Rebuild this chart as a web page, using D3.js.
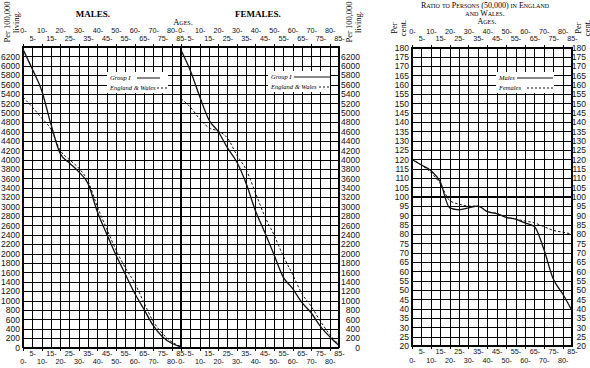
<!DOCTYPE html>
<html>
<head>
<meta charset="utf-8">
<script src="https://cdn.jsdelivr.net/npm/d3@7"></script>
<style>
body { margin: 0; background: #fff; }
svg { display: block; font-family: "Liberation Serif", "DejaVu Serif", serif; }
.grid line { stroke: #000; stroke-width: 1; shape-rendering: crispEdges; }
.lab text { fill: #111; }
</style>
</head>
<body>
<script>
// age groups (start of each 5-year group)
const ages = [0, 5, 10, 15, 20, 25, 30, 35, 40, 45, 50, 55, 60, 65, 70, 75, 80, 85];
const tenLabels = [0, 10, 20, 30, 40, 50, 60, 70, 80];
const fiveLabels = [5, 15, 25, 35, 45, 55, 65, 75, 85];
const popTicks = d3.range(0, 6201, 200);
const ratioTicks = d3.range(20, 181, 5);

// per 100,000 living
const malesGroup1 = [6350, 5930, 5480, 4760, 4130, 3930, 3740, 3490, 2890, 2420, 1970, 1565, 1160, 820, 470, 230, 90, 10];
const malesEW     = [5330, 5120, 4890, 4650, 4200, 4000, 3820, 3540, 3000, 2530, 2080, 1700, 1380, 960, 560, 300, 120, 20];
const femalesGroup1 = [6330, 5900, 5350, 4850, 4600, 4250, 3950, 3500, 2920, 2460, 1980, 1500, 1260, 960, 740, 450, 230, 40];
const femalesEW     = [5300, 5120, 4870, 4680, 4610, 4460, 4100, 3790, 3300, 2800, 2400, 1950, 1560, 1150, 880, 560, 280, 60];

// ratio to persons in England and Wales, per cent
const ratioMales   = [120, 117, 114, 108, 94, 93, 94, 95, 92, 91, 89, 88, 86, 84, 72, 56, 48, 39];
const ratioFemales = [120, 117, 113, 107, 98, 96, 95, 95, 92, 91, 89, 88, 87, 86, 84, 82, 81, 80];

const svg = d3.select("body").append("svg")
  .attr("width", 590)
  .attr("height", 368);

const yPop = d3.scaleLinear().domain([0, 6400]).range([347.5, 47]);
const xMale = d3.scaleLinear().domain([0, 85]).range([23, 181]);
const xFemale = d3.scaleLinear().domain([0, 85]).range([181, 339]);
const xRatio = d3.scaleLinear().domain([0, 85]).range([412, 572]);
const yRatio = d3.scaleLinear().domain([20, 180]).range([346, 47.5]);

function grid(x, y, yGrid) {
  const [yb, yt] = y.range();
  const [xl, xr] = x.range();
  const v = svg.append("g").attr("class", "grid")
    .attr("transform", `translate(0,${yb})`)
    .call(d3.axisBottom(x).tickValues(ages).tickSize(-(yb - yt)).tickFormat(""));
  const h = svg.append("g").attr("class", "grid")
    .attr("transform", `translate(${xl},0)`)
    .call(d3.axisLeft(y).tickValues(yGrid).tickSize(-(xr - xl)).tickFormat(""));
  // little ticks sticking out at the tens
  const t = svg.append("g").attr("class", "grid")
    .attr("transform", `translate(0,${yt})`)
    .call(d3.axisTop(x).tickValues(tenLabels).tickSize(3).tickFormat(""));
  const b = svg.append("g").attr("class", "grid")
    .attr("transform", `translate(0,${yb})`)
    .call(d3.axisBottom(x).tickValues(tenLabels).tickSize(3).tickFormat(""));
  [v, h, t, b].forEach(g => g.select(".domain").remove());
  svg.append("rect")
    .attr("x", xl).attr("y", yt)
    .attr("width", xr - xl).attr("height", yb - yt)
    .attr("fill", "none").attr("stroke", "#000").attr("stroke-width", 1.3)
    .attr("shape-rendering", "crispEdges");
}

function ageLabels(x, yt, yb) {
  const fmt = d => d + "-";
  const rows = [
    [d3.axisTop, tenLabels, yt, 14],
    [d3.axisTop, fiveLabels, yt, 6.5],
    [d3.axisBottom, fiveLabels, yb, 3],
    [d3.axisBottom, tenLabels, yb, 11.5]
  ];
  rows.forEach(([ax, vals, pos, pad]) => {
    const g = svg.append("g").attr("class", "lab")
      .attr("transform", `translate(0,${pos})`)
      .call(ax(x).tickValues(vals).tickSize(0).tickPadding(pad).tickFormat(fmt));
    g.select(".domain").remove();
    g.selectAll("text").attr("font-size", 7.2).attr("font-family", null);
  });
}

function valueLabels(axis, xpos, anchorEnd) {
  const g = svg.append("g").attr("class", "lab")
    .attr("transform", `translate(${xpos},0)`)
    .call(axis.tickFormat(d => String(d)));
  g.select(".domain").remove();
  g.selectAll("text").attr("font-size", 8.5).attr("font-family", null);
  if (anchorEnd) g.selectAll("text").attr("text-anchor", "end").attr("x", anchorEnd);
}

function curve(x, y, vals, dashed) {
  const line = d3.line().x((d, i) => x(ages[i])).y(d => y(d)).curve(d3.curveMonotoneX);
  svg.append("path")
    .attr("d", line(vals))
    .attr("fill", "none")
    .attr("stroke", "#111")
    .attr("stroke-width", dashed ? 1 : 1.3)
    .attr("stroke-dasharray", dashed ? "2.5,2" : null);
}

function legend(x, y, w, labels) {
  svg.append("rect").attr("x", x - 3).attr("y", y - 8).attr("width", w).attr("height", 21).attr("fill", "#fff");
  labels.forEach(([txt, lx0, lx1, dashed], i) => {
    svg.append("text").attr("x", x).attr("y", y + i * 10)
      .attr("font-size", 6.5).attr("font-style", "italic")
      .text(txt);
    svg.append("line")
      .attr("x1", lx0).attr("x2", lx1)
      .attr("y1", y - 2 + i * 10).attr("y2", y - 2 + i * 10)
      .attr("stroke", "#111").attr("stroke-width", 1)
      .attr("stroke-dasharray", dashed ? "2,2" : null);
  });
}

// ---- males / females ----
grid(xMale, yPop, popTicks);
grid(xFemale, yPop, popTicks);
ageLabels(xMale, 47, 347.5);
ageLabels(xFemale, 47, 347.5);
valueLabels(d3.axisLeft(yPop).tickValues(popTicks).tickSize(0).tickPadding(3), 23);
valueLabels(d3.axisRight(yPop).tickValues(popTicks).tickSize(0), 339, 21);

curve(xMale, yPop, malesEW, true);
curve(xMale, yPop, malesGroup1, false);
curve(xFemale, yPop, femalesEW, true);
curve(xFemale, yPop, femalesGroup1, false);

legend(110, 80, 61, [["Group I", 137, 160, false], ["England & Wales", 157, 167, true]]);
legend(271, 79, 62, [["Group I", 294, 330, false], ["England & Wales", 319, 329, true]]);

svg.append("text").attr("x", 93).attr("y", 17).attr("text-anchor", "middle")
  .attr("font-size", 9).attr("font-weight", "bold").text("MALES.");
svg.append("text").attr("x", 258).attr("y", 17).attr("text-anchor", "middle")
  .attr("font-size", 9).attr("font-weight", "bold").text("FEMALES.");
svg.append("text").attr("x", 183).attr("y", 25).attr("text-anchor", "middle")
  .attr("font-size", 8.5).style("font-variant", "small-caps").text("Ages.");

function sideTitle(x, y, lines, size) {
  const t = svg.append("text")
    .attr("transform", `translate(${x},${y}) rotate(-90)`)
    .attr("text-anchor", "middle").attr("font-size", size);
  lines.forEach((s, i) => t.append("tspan").attr("x", 0).attr("dy", i ? "1em" : 0).text(s));
}
sideTitle(10, 22, ["Per 100,000", "living."], 8.5);
sideTitle(352, 22, ["Per 100,000", "living."], 8.5);

// ---- ratio ----
grid(xRatio, yRatio, ratioTicks);
svg.append("line").attr("x1", 412).attr("x2", 572)
  .attr("y1", yRatio(100)).attr("y2", yRatio(100))
  .attr("stroke", "#000").attr("stroke-width", 1.6);
ageLabels(xRatio, 47.5, 346);
valueLabels(d3.axisLeft(yRatio).tickValues(ratioTicks).tickSize(0).tickPadding(3), 412);
valueLabels(d3.axisRight(yRatio).tickValues(ratioTicks).tickSize(0), 572, 14);

curve(xRatio, yRatio, ratioFemales, true);
curve(xRatio, yRatio, ratioMales, false);

legend(499, 80, 58, [["Males", 517, 553, false], ["Females", 527, 553, true]]);

svg.append("text").attr("x", 485).attr("y", 7.5).attr("text-anchor", "middle")
  .attr("font-size", 8).style("font-variant", "small-caps")
  .text("Ratio to Persons (50,000) in England");
svg.append("text").attr("x", 485).attr("y", 16).attr("text-anchor", "middle")
  .attr("font-size", 8).style("font-variant", "small-caps").text("and Wales.");
svg.append("text").attr("x", 487).attr("y", 24).attr("text-anchor", "middle")
  .attr("font-size", 8).style("font-variant", "small-caps").text("Ages.");
sideTitle(397, 28, ["Per", "cent."], 8.5);
sideTitle(581, 28, ["Per", "cent."], 8.5);
</script>
</body>
</html>
